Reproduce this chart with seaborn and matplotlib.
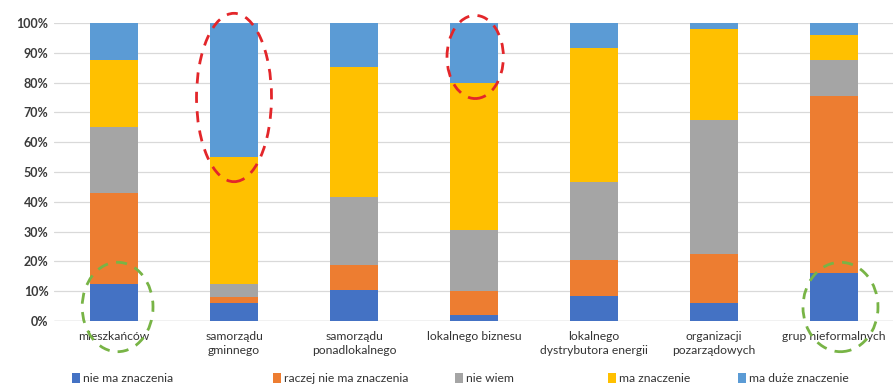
import numpy as np
import pandas as pd
import matplotlib
matplotlib.use("Agg")
import matplotlib.pyplot as plt
from matplotlib.patches import Ellipse, Rectangle
import seaborn as sns

categories = ["mieszkańców", "samorządu\ngminnego", "samorządu\nponadlokalnego",
              "lokalnego biznesu", "lokalnego\ndystrybutora energii",
              "organizacji\npozarządowych", "grup nieformalnych"]

series_names = ["nie ma znaczenia", "raczej nie ma znaczenia", "nie wiem",
                "ma znaczenie", "ma duże znaczenie"]

nie_ma_znaczenia = [12.3, 6.1, 10.3, 1.9, 8.3, 6.1, 16.1]
raczej_nie_ma_znaczenia = [30.5, 2.0, 8.4, 8.2, 12.1, 16.3, 59.5]
nie_wiem = [22.4, 4.2, 22.8, 20.4, 26.3, 44.9, 12.1]
ma_znaczenie = [22.5, 42.9, 43.9, 49.3, 44.9, 30.7, 8.2]
ma_duze_znaczenie = [12.3, 44.8, 14.6, 20.2, 8.4, 2.0, 4.1]

yticks = [0, 10, 20, 30, 40, 50, 60, 70, 80, 90, 100]
ytick_labels = [f"{v}%" for v in yticks]

colors = ["#4472C4", "#ED7D31", "#A5A5A5", "#FFC000", "#5B9BD5"]

sns.set_theme(style="white")
plt.rcParams["font.family"] = ["Lato", "DejaVu Sans"]

values = [nie_ma_znaczenia, raczej_nie_ma_znaczenia, nie_wiem, ma_znaczenie, ma_duze_znaczenie]
df = pd.DataFrame({name: vals for name, vals in zip(series_names, values)})
df["kategoria"] = categories
# normalise each column to fractions of the total
totals = df[series_names].sum(axis=1)
for name in series_names:
    df[name] = df[name] / totals

fig = plt.figure(figsize=(8.93, 3.85), dpi=100)
ax = fig.add_axes([54 / 893, 64 / 385, 840 / 893, 298 / 385])

bottom = np.zeros(len(categories))
for name, col in zip(series_names, colors):
    sns.barplot(x=df["kategoria"], y=df[name], bottom=bottom, color=col,
                width=0.4, ax=ax, saturation=1, linewidth=0, zorder=3)
    bottom = bottom + df[name].values

ax.set_xlim(-0.5, len(categories) - 0.5)
ax.set_ylim(0, 1)
ax.set_yticks([v / 100 for v in yticks])
ax.set_yticklabels(ytick_labels)
ax.set_xlabel("")
ax.set_ylabel("")
ax.grid(axis="y", color="#D9D9D9", linewidth=0.9, zorder=0)
ax.grid(axis="x", visible=False)
for s in ax.spines.values():
    s.set_visible(False)
ax.axhline(0, color="#D0D0D0", linewidth=1.0, zorder=2)
ax.tick_params(axis="y", length=0, pad=4, labelsize=9, labelcolor="#3A3A3A")
ax.tick_params(axis="x", length=0, pad=7, labelsize=8.7, labelcolor="#333333")
for lbl in ax.get_yticklabels():
    lbl.set_fontweight("bold")
for lbl in ax.get_xticklabels():
    lbl.set_linespacing(1.4)

# dashed highlight ellipses
red = "#E3262A"
green = "#78B446"
highlights = [
    (1.0, 0.75, 0.625, 0.565, red),
    (3.01, 0.886, 0.47, 0.279, red),
    (0.03, 0.047, 0.59, 0.30, green),
    (6.054, 0.047, 0.625, 0.30, green),
]
for cx, cy, w, h, c in highlights:
    ax.add_patch(Ellipse((cx, cy), w, h, fill=False, edgecolor=c, linewidth=2.0,
                         linestyle=(0, (4, 3)), clip_on=False, zorder=10))

# legend row
legend_x = [72, 273, 455, 608, 738]
legend_y = 378
for x, name, col in zip(legend_x, series_names, colors):
    fig.patches.append(Rectangle((x / 893, (385 - legend_y - 5) / 385), 8 / 893, 10 / 385,
                                 transform=fig.transFigure, facecolor=col,
                                 edgecolor="none", figure=fig))
    fig.text((x + 11) / 893, (385 - legend_y) / 385, name, fontsize=8.7,
             color="#333333", va="center", ha="left")

fig.savefig("out.png", dpi=100, facecolor="white")
